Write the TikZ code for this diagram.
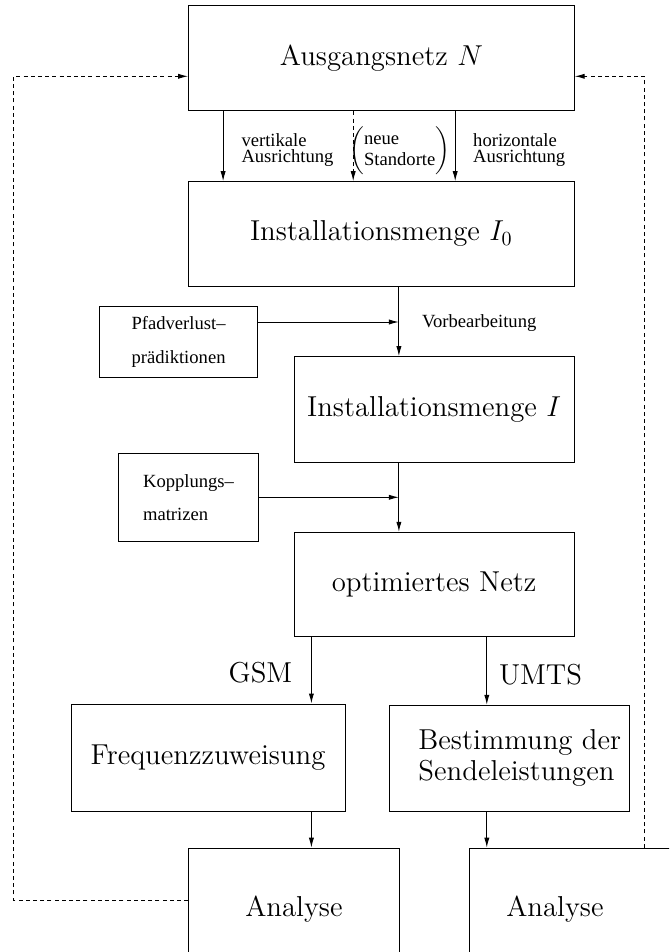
\documentclass[tikz,border=0pt]{standalone}
\usepackage{fontspec}
\newfontfamily\lblfont{Liberation Serif}
\usetikzlibrary{arrows.meta}

\begin{document}
\begin{tikzpicture}[x=0.5pt, y=-0.5pt, line width=0.5pt, >={Latex[length=5pt,width=2.6pt]}]
			\tikzstyle{box}=[draw, rectangle, inner sep=0pt, font=\Large]
			\tikzstyle{lbl}=[inner sep=0pt, align=left, font={\lblfont\fontsize{9.3pt}{8.2pt}\selectfont}]
			\tikzstyle{fb}=[dash pattern=on 2pt off 1.6pt]
			\useasboundingbox (0,0) rectangle (669,952);
			\clip (0,0) rectangle (669,952);
			% Kaesten
			\node[box, minimum width=192.8pt, minimum height=52.65pt] (net) at (381.4,58.35) {Ausgangsnetz $N$};
			\node[box, minimum width=192.8pt, minimum height=52.15pt] (inst0) at (381.4,233.85) {Installationsmenge $I_0$};
			\node[box, minimum width=79.15pt, minimum height=35.35pt, align=left, font={\lblfont\fontsize{9.3pt}{17.2pt}\selectfont}] (pfad) at (178.55,341.65) {Pfadverlust–\\prädiktionen};
			\node[box, minimum width=140.1pt, minimum height=52.65pt] (inst) at (434.1,409.35) {Installationsmenge $I$};
			\node[box, minimum width=69.95pt, minimum height=43.65pt, align=left, font={\lblfont\fontsize{9.3pt}{16.5pt}\selectfont}] (kopp) at (188.55,497.35) {Kopplungs–\\matrizen};
			\node[box, minimum width=140.1pt, minimum height=52.2pt] (opt) at (434.1,584.5) {optimiertes Netz};
			\node[box, minimum width=136.9pt, minimum height=53.85pt] (freq) at (208.1,757.85) {Frequenzzuweisung};
			\node[box, minimum width=119.9pt, minimum height=53.2pt] (best) at (509.4,758.5) {\hspace*{10.4pt}\renewcommand\arraystretch{0.88}\begin{tabular}{@{}l@{}}Bestimmung der\\Sendeleistungen\end{tabular}};
			\node[box, minimum width=105.35pt, minimum height=60.5pt] (ana1) at (293.95,908.7) {Analyse};
			\node[box, minimum width=105.5pt, minimum height=60.5pt] (ana2) at (574.95,908.7) {Analyse\hspace*{20pt}};
			% Beschriftungen
			\node[lbl, anchor=west] (vert) at (241,150) {vertikale\\Ausrichtung};
			\node[lbl] (neu) at (399.75,150.8) {\renewcommand\arraystretch{1.25}$\left(\mbox{\begin{tabular}{@{}l@{}}neue\\Standorte\end{tabular}}\right)$};
			\node[lbl, anchor=west] (hor) at (472.7,150) {horizontale\\Ausrichtung};
			\node[lbl, anchor=west] (vorb) at (421.5,323) {Vorbearbeitung};
			\node[inner sep=0pt, font=\Large] (gsm) at (260.5,672.3) {GSM};
			\node[inner sep=0pt, font=\Large] (umts) at (540.5,675) {UMTS};
			% Pfeile
			\draw[->] (223.1,0 |- net.south) -- (223.1,0 |- inst0.north);
			\draw[->, fb] (353.2,0 |- net.south) -- (353.2,0 |- inst0.north);
			\draw[->] (455.2,0 |- net.south) -- (455.2,0 |- inst0.north);
			\coordinate (pre) at (398.9,322);
			\coordinate (kop) at (398.9,497.3);
			\draw[->] (pre |- inst0.south) -- (pre |- inst.north);
			\draw[->] (pfad.east |- pre) -- (pre);
			\draw[->] (kop |- inst.south) -- (kop |- opt.north);
			\draw[->] (kopp.east |- kop) -- (kop);
			\draw[->] (311.4,0 |- opt.south) -- (311.4,0 |- freq.north);
			\draw[->] (486.8,0 |- opt.south) -- (486.8,0 |- best.north);
			\draw[->] (311.4,0 |- freq.south) -- (311.4,0 |- ana1.north);
			\draw[->] (486.8,0 |- best.south) -- (486.8,0 |- ana2.north);
			% Rueckkopplung
			\draw[->, fb] (ana1.west |- 0,900) -| (13.7,76.3) -- (net.west |- 0,76.3);
			\draw[->, fb] (644,0 |- ana2.north) -- (644,76.3) -- (net.east |- 0,76.3);
		\end{tikzpicture}
\end{document}
